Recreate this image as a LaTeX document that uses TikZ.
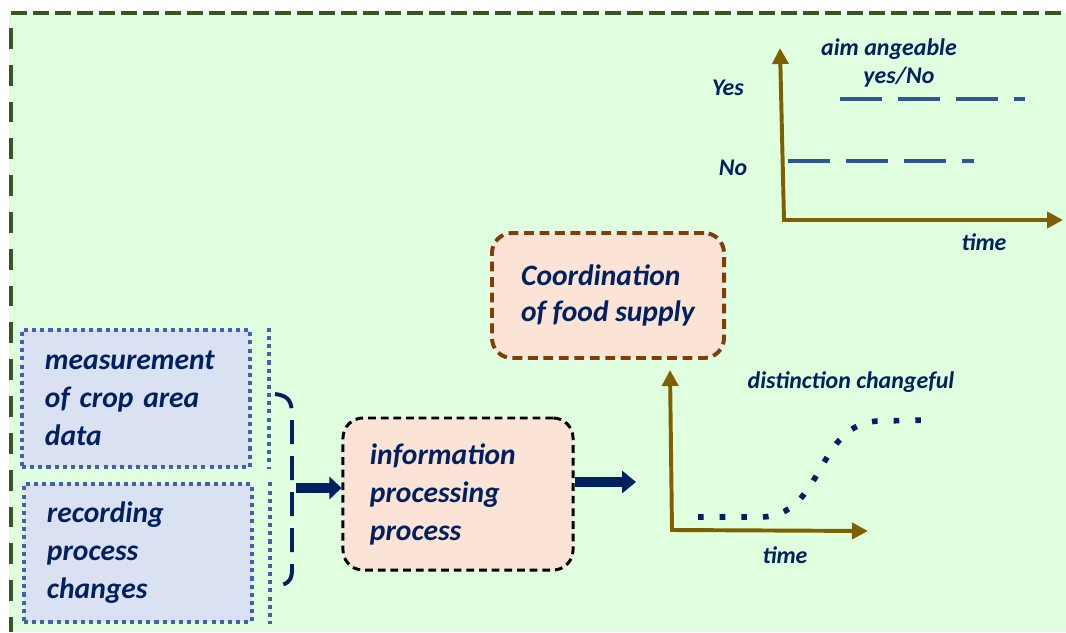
\documentclass[tikz,border=0pt]{standalone}
\usepackage{fontspec}
\setmainfont{Carlito}
\usetikzlibrary{arrows.meta,positioning}
\definecolor{Navy}{HTML}{002060}
\definecolor{LeafG}{HTML}{375623}
\definecolor{MintF}{HTML}{DFFFDF}
\definecolor{Steel}{HTML}{2F5597}
\definecolor{Slate}{HTML}{4262AA}
\definecolor{SlateF}{HTML}{DAE1F3}
\definecolor{Peach}{HTML}{FBE3D6}
\definecolor{Rust}{HTML}{843C0C}
\definecolor{Olive}{HTML}{7F6000}

\begin{document}
\begin{tikzpicture}[x=0.025cm,y=-0.025cm,
    font=\fontsize{21}{27}\selectfont\bfseries\itshape, text=Navy,
    dots/.style={Slate,line width=2.9pt,dash pattern=on 2.9pt off 2.9pt},
    src/.style={dots,draw=Slate,fill=SlateF,text=Navy,
      minimum height=3.43cm,text width=4.55cm,inner xsep=0.575cm,align=left},
    proc/.style={fill=Peach,rounded corners=0.5cm,align=left},
    lbl/.style={font=\fontsize{17}{20}\selectfont\bfseries\itshape},
    axis/.style={Olive,line width=2.8pt,line join=miter},
    bar/.style={Steel,line width=3.4pt,dash pattern=on 1.05cm off 0.4cm},
    >={Triangle[length=0.4cm,width=0.4cm]}]
  \useasboundingbox (0,0) rectangle (1066,632);
  % frame
  \fill[MintF] (9,13) rectangle (1066,632);
  \draw[LeafG,line width=2.8pt,dash pattern=on 0.4cm off 0.15cm] (11,13) -- (1066,13);
  \draw[LeafG,line width=2.8pt,dash pattern=on 0.52cm off 0.4cm] (11,28) -- (11,632);

  % inputs
  \node[src] (crop) at (136,398.5) {measurement\\ of crop area\\ data};
  \node[src] (rec) at (138,553) {recording\\ process\\ changes};
  \draw[dots] ([xshift=0.425cm]crop.north east) -- ([xshift=0.425cm]crop.south east);
  \draw[dots] ([xshift=0.4cm]rec.north east) -- ([xshift=0.4cm]rec.south east);

  % brace
  \coordinate (bt) at (275,394);
  \coordinate (bb) at (275,586);
  \coordinate (bm) at (296,488);
  \draw[Navy,line width=2.8pt,dash pattern=on 0.6cm off 0.3cm]
    (bt) .. controls (290,396) and (292,402) .. (292,418) -- (292,570)
    .. controls (292,582) and (286,585) .. (bb);

  % processing
  \node[proc,draw=black,line width=2.1pt,dash pattern=on 5.5pt off 3.5pt,
    minimum height=3.8cm,text width=4.4cm,inner xsep=0.675cm] (info) at (458,494)
    {information\\ processing\\ process};
  \node[proc,draw=Rust,line width=2.8pt,dash pattern=on 7pt off 4pt,
    minimum height=3.125cm,minimum width=5.8cm,
    font=\fontsize{21}{25}\selectfont\bfseries\itshape] (coord) at (608,295.5)
    {Coordination\\ of food supply};
  \draw[Navy,line width=0.27cm,-{Triangle[length=0.3cm,width=0.55cm]}]
    (bm) -- (bm -| info.west);
  \coordinate (out) at (636,482);
  \draw[Navy,line width=0.25cm,-{Triangle[length=0.35cm,width=0.55cm]}]
    (out -| info.east) -- (out);

  % lower chart
  \coordinate (o1) at (672,530);
  \coordinate (y1) at (670,370);
  \coordinate (x1) at (868,531);
  \draw[axis,<->] (y1) -- (o1) -- (x1);
  \node[lbl] (t1) at (785,555) {time};
  \node[lbl] (dc) at (851,382) {distinction changeful};
  \draw[Navy,line width=4pt,dash pattern=on 4pt off 11.4pt]
    (698,517) -- (760,517) .. controls (825,517) and (815,422) .. (880,421) -- (930,420);

  % upper chart
  \coordinate (o2) at (784,220);
  \coordinate (y2) at (780,48);
  \coordinate (x2) at (1063,220);
  \draw[axis,<->] (y2) -- (o2) -- (x2);
  \node[lbl] (t2) at (984,242) {time};
  \node[lbl] (yes) at (728,88) {Yes};
  \node[lbl] (no) at (733,168) {No};
  \node[lbl,align=center] (aim) at (889,63) {aim angeable\\ \hspace*{0.5cm}yes/No};
  \draw[bar] (840,99) -- (1025,99);
  \draw[bar] (788,161) -- (974,161);
\end{tikzpicture}
\end{document}
